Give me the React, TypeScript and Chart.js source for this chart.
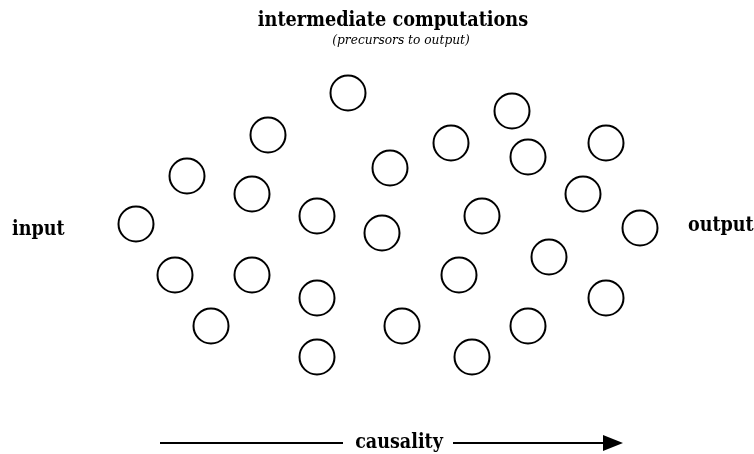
import React, { useEffect, useRef } from "react";
import { Chart, registerables } from "chart.js";

Chart.register(...registerables);

// Node (circle) positions in diagram units (0..754 wide, 0..454 tall, y downward)
const nodeX = [136, 175, 187, 211, 252, 252, 268, 317, 317, 317, 348, 382, 390, 402, 451, 459, 472, 482, 512, 528, 528, 549, 583, 606, 606, 640];
const nodeY = [224, 275, 176, 326, 194, 275, 135, 216, 298, 357, 93, 233, 168, 326, 143, 275, 357, 216, 111, 157, 326, 257, 194, 143, 298, 228];

// Causality arrow segments
const arrowLeftX = [160, 343];
const arrowRightX = [453, 613];
const arrowY = 443;

// Text labels
const labelTexts = ["intermediate computations", "(precursors to output)", "input", "output", "causality"];
const labelX = [393, 401, 12, 688, 399];
const labelY = [26, 44, 235, 231, 448];
const labelFonts = [
  "bold 19.7px 'DejaVu Serif Condensed', 'DejaVu Serif'",
  "italic 13.6px 'DejaVu Serif Condensed', 'DejaVu Serif'",
  "bold 19.5px 'DejaVu Serif Condensed', 'DejaVu Serif'",
  "bold 19.5px 'DejaVu Serif Condensed', 'DejaVu Serif'",
  "bold 19.5px 'DejaVu Serif Condensed', 'DejaVu Serif'",
];
const labelAlign: CanvasTextAlign[] = ["center", "center", "left", "left", "center"];

function makeArrowHead(): HTMLCanvasElement {
  const c = document.createElement("canvas");
  c.width = 20;
  c.height = 16;
  const g = c.getContext("2d")!;
  g.fillStyle = "#000";
  g.beginPath();
  g.moveTo(0, 0);
  g.lineTo(20, 8);
  g.lineTo(0, 16);
  g.closePath();
  g.fill();
  return c;
}

const textPlugin = {
  id: "diagramText",
  afterDraw(chart: any) {
    const ctx = chart.ctx;
    const xs = chart.scales.x;
    const ys = chart.scales.y;
    ctx.save();
    ctx.fillStyle = "#000";
    ctx.textBaseline = "alphabetic";
    labelTexts.forEach((t, i) => {
      ctx.font = labelFonts[i];
      ctx.textAlign = labelAlign[i];
      ctx.fillText(t, xs.getPixelForValue(labelX[i]), ys.getPixelForValue(labelY[i]));
    });
    ctx.restore();
  },
};

export default function App() {
  const ref = useRef<HTMLCanvasElement | null>(null);
  useEffect(() => {
    if (!ref.current) return;
    const head = makeArrowHead();
    const chart = new Chart(ref.current, {
      type: "scatter",
      data: {
        datasets: [
          {
            label: "nodes",
            data: nodeX.map((x, i) => ({ x, y: nodeY[i] })),
            pointRadius: 17.5,
            pointBorderWidth: 2,
            pointBackgroundColor: "#ffffff",
            pointBorderColor: "#000000",
            pointHoverRadius: 17.5,
          },
          {
            label: "arrowLeft",
            type: "line",
            data: arrowLeftX.map((x) => ({ x, y: arrowY })),
            borderColor: "#000",
            borderWidth: 2,
            pointRadius: 0,
            showLine: true,
          },
          {
            label: "arrowRight",
            type: "line",
            data: arrowRightX.map((x) => ({ x, y: arrowY })),
            borderColor: "#000",
            borderWidth: 2,
            pointRadius: [0, 8],
            pointStyle: ["circle", head] as any,
            showLine: true,
          },
        ],
      },
      options: {
        responsive: false,
        animation: false,
        layout: { padding: 0, autoPadding: false },
        plugins: { legend: { display: false }, tooltip: { enabled: false }, title: { display: false } },
        scales: {
          x: { type: "linear", min: 0, max: 754, display: false },
          y: { type: "linear", min: 0, max: 454, reverse: true, display: false },
        },
      },
      plugins: [textPlugin],
    });
    return () => chart.destroy();
  }, []);
  return (
    <div style={{ position: "absolute", left: 0, top: 0, width: 754, height: 454, background: "#fff" }}>
      <canvas ref={ref} width={754} height={454} style={{ display: "block" }} />
    </div>
  );
}
